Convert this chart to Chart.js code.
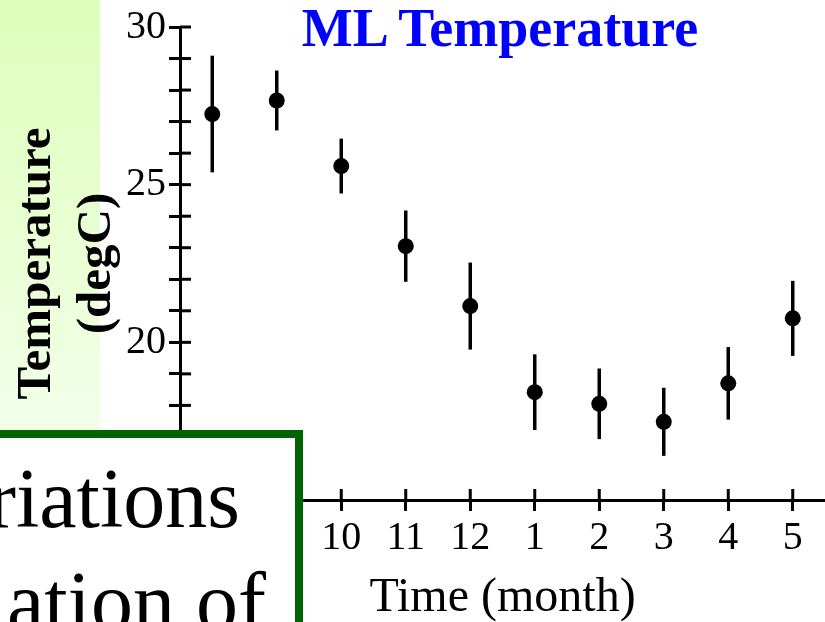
<!DOCTYPE html>
<html lang="en">

<head>
    <meta charset="UTF-8">
    <title>ML Temperature</title>
    <script src="https://cdn.jsdelivr.net/npm/chart.js"></script>
    <style>
        body { margin: 0; background: #fff; }
        .slide { position: relative; width: 825px; height: 622px; overflow: hidden; font-family: "Liberation Serif", "Times New Roman", serif; }
        .panel { position: absolute; left: 0; top: 0; width: 100px; height: 440px; background: linear-gradient(to bottom, rgb(221, 255, 185), rgb(243, 255, 234)); }
        .grafica { position: absolute; left: 0; top: 0; width: 825px; height: 622px; }
        .titulo { position: absolute; left: 280px; width: 440px; top: 1px; text-align: center; color: #0000ff; font-weight: bold; font-size: 54px; line-height: 54px; white-space: nowrap; }
        .caja { position: absolute; left: -20px; top: 430px; width: 323px; height: 260px; box-sizing: border-box; border: 8px solid #006400; background: #fff; }
        .linea { position: absolute; font-size: 84px; line-height: 84px; white-space: nowrap; color: #000; }
    </style>
</head>

<body>
    <div class="slide">
        <div class="panel"></div>
        <div class="grafica">
            <canvas id="myChart"></canvas>
        </div>
        <div class="titulo">ML Temperature</div>
        <div class="caja"></div>
        <div class="linea" style="left:-12px; top:457px;">riations</div>
        <div class="linea" style="left:7px; top:560px;">ation of</div>
    </div>

    <script>
        // months Aug..May
        const meses = ["8", "9", "10", "11", "12", "1", "2", "3", "4", "5"];
        const temperatura = [27.24, 27.67, 25.59, 23.05, 21.15, 18.42, 18.05, 17.48, 18.70, 20.76];
        const error = [1.85, 0.95, 0.87, 1.13, 1.38, 1.2, 1.12, 1.08, 1.15, 1.19];
        const yLabels = [15, 20, 25, 30];

        const serif = "'Liberation Serif', 'Times New Roman', serif";

        // error bars + inner half of tick marks
        const barras = {
            id: "barras",
            beforeDatasetsDraw(chart) {
                const ctx = chart.ctx;
                const x = chart.scales.x, y = chart.scales.y;
                ctx.save();
                ctx.strokeStyle = "#000";
                ctx.lineWidth = 3.5;
                temperatura.forEach((v, i) => {
                    const px = x.getPixelForValue(i);
                    ctx.beginPath();
                    ctx.moveTo(px, y.getPixelForValue(v + error[i]));
                    ctx.lineTo(px, y.getPixelForValue(v - error[i]));
                    ctx.stroke();
                });
                ctx.restore();
            },
            afterDraw(chart) {
                const ctx = chart.ctx;
                const x = chart.scales.x, y = chart.scales.y;
                const area = chart.chartArea;
                ctx.save();
                ctx.strokeStyle = "#000";
                ctx.lineWidth = 3;
                y.ticks.forEach(t => {
                    const py = y.getPixelForValue(t.value);
                    ctx.beginPath();
                    ctx.moveTo(area.left, py);
                    ctx.lineTo(area.left + 11, py);
                    ctx.stroke();
                });
                x.ticks.forEach((t, i) => {
                    const px = x.getPixelForValue(i);
                    ctx.beginPath();
                    ctx.moveTo(px, area.bottom);
                    ctx.lineTo(px, area.bottom - 11);
                    ctx.stroke();
                });
                ctx.restore();
            }
        };

        const config = {
            type: "line",
            data: {
                labels: meses,
                datasets: [{
                    data: temperatura,
                    showLine: false,
                    pointRadius: 8,
                    pointBackgroundColor: "#000",
                    pointBorderColor: "#000",
                    pointBorderWidth: 0
                }]
            },
            options: {
                responsive: true,
                maintainAspectRatio: false,
                animation: false,
                layout: { autoPadding: false, padding: { top: 20, left: 0, right: 0, bottom: 0 } },
                plugins: {
                    legend: { display: false },
                    tooltip: { enabled: false }
                },
                scales: {
                    x: {
                        type: "category",
                        offset: true,
                        afterFit: s => { s.height = 122; s.paddingLeft = 0; s.paddingRight = 0; },
                        border: { display: true, color: "#000", width: 3 },
                        grid: { display: true, drawOnChartArea: false, offset: false, tickLength: 11, tickWidth: 3, tickColor: "#000" },
                        ticks: { color: "#000", padding: 3, maxRotation: 0, autoSkip: false, font: { family: serif, size: 40 } },
                        title: { display: true, text: "Time (month)", color: "#000", padding: { top: 0, bottom: -5 }, font: { family: serif, size: 48 } }
                    },
                    y: {
                        min: 15,
                        max: 30,
                        afterFit: s => { s.width = 180; },
                        border: { display: true, color: "#000", width: 3 },
                        grid: { display: true, drawOnChartArea: false, tickLength: 11, tickWidth: 3, tickColor: "#000" },
                        ticks: {
                            stepSize: 1,
                            autoSkip: false,
                            color: "#000",
                            padding: 3,
                            font: { family: serif, size: 40 },
                            callback: v => yLabels.includes(v) ? String(v) : ""
                        },
                        title: {
                            display: true,
                            text: ["Temperature", "(degC)"],
                            color: "#000",
                            padding: { top: 7, bottom: 0 },
                            font: { family: serif, size: 49, weight: "bold", lineHeight: "60px" }
                        }
                    }
                }
            },
            plugins: [barras]
        };

        const ctx = document.getElementById("myChart").getContext("2d");
        const grafico = new Chart(ctx, config);
    </script>
</body>

</html>
